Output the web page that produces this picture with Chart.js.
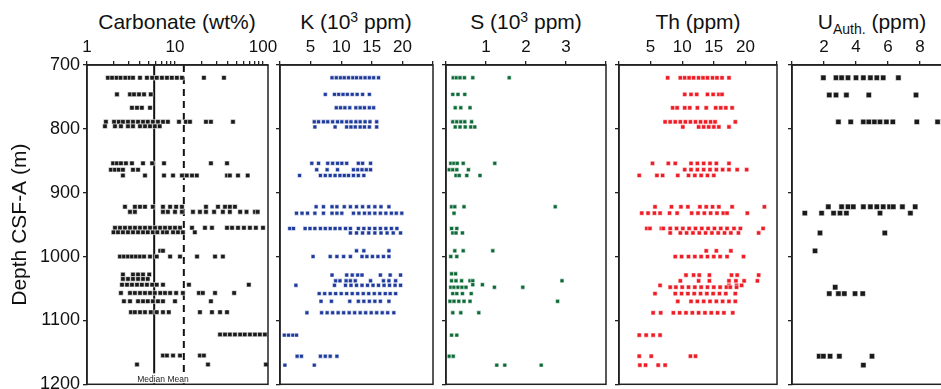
<!DOCTYPE html>
<html>
<head>
<meta charset="utf-8">
<script src="https://cdn.jsdelivr.net/npm/chart.js@4.4.1/dist/chart.umd.min.js"></script>
<style>
body { margin: 0; width: 941px; height: 389px; overflow: hidden; background: #fff; position: relative; font-family: "Liberation Sans", Arial, sans-serif; }
canvas { position: absolute; top: 0; }
.ttl { position: absolute; top: 10px; font-size: 21px; line-height: 1.15; white-space: nowrap; transform: translateX(-50%); color: #111; }
.ttl sup { font-size: 14px; vertical-align: 7px; line-height: 0; }
.ttl sub { font-size: 14px; vertical-align: -5px; line-height: 0; }
</style>
</head>
<body>
<div class="ttl" style="left:177px">Carbonate (wt%)</div>
<div class="ttl" style="left:356px">K (10<sup>3</sup> ppm)</div>
<div class="ttl" style="left:526px">S (10<sup>3</sup> ppm)</div>
<div class="ttl" style="left:698px">Th (ppm)</div>
<div class="ttl" style="left:872px">U<sub>Auth.</sub> (ppm)</div>
<script>
// depth rows (m) with the values measured at that depth
const carbRows = [
  [720, [1.73, 1.93, 2.17, 2.41, 2.73, 3.05, 3.33, 4.0, 4.8, 5.5, 6.2, 7.1, 8.1, 9.2, 10.5, 12.0, 21.3, 36]],
  [746, [2.19, 3.08, 3.42, 3.9, 4.45, 5.3]],
  [767, [3.24, 3.7, 4.2, 5.2]],
  [789, [1.64, 2.03, 2.3, 2.56, 2.92, 3.33, 3.8, 4.33, 4.9, 5.6, 6.4, 7.3, 8.3, 11.1, 13.3, 14.8, 22.5, 25.6, 45.6]],
  [796, [1.6, 2.08, 2.43, 2.92, 3.33, 4.0, 4.56, 5.2, 5.9, 6.7]],
  [854, [1.98, 2.19, 2.43, 2.77, 3.24, 4.33, 5.5, 7.5, 25.6, 39]],
  [864, [1.87, 2.08, 2.3, 2.56, 3.33, 3.8]],
  [873, [2.56, 4.56, 7.5, 9.5, 12.0, 13.6, 15.6, 17.7, 39, 42, 52, 67]],
  [922, [2.7, 3.5, 4.0, 4.56, 5.6, 7.3, 8.8, 10.3, 12.0, 22.5, 30.8, 37, 42, 48]],
  [930, [3.08, 3.5, 7.3, 8.3, 10, 12.0, 16, 19.2, 22.5, 27.8, 35, 42, 55, 65, 81, 87]],
  [955, [2.08, 2.37, 2.7, 3.08, 3.51, 4.0, 4.56, 5.2, 5.93, 6.76, 7.7, 8.77, 10, 11.4, 15.6, 21.9, 26.3, 39, 44.5, 52, 60.7, 71, 83, 100]],
  [962, [2.0, 2.25, 2.56, 2.92, 3.33, 3.8, 4.33, 4.9, 5.6, 6.3, 7.3, 8.1, 9.5, 10.8, 12.3, 16.8]],
  [991, [6.8, 7.3]],
  [1000, [2.37, 2.63, 2.92, 3.24, 3.6, 4.0, 4.45, 5.2, 6.2, 8.8, 11.4, 17.8, 28.5, 35]],
  [1028, [2.56, 3.33, 3.8, 4.33, 5.1]],
  [1035, [2.56, 2.92, 3.33, 3.8, 4.33, 4.9]],
  [1044, [2.5, 2.85, 3.24, 3.7, 4.2, 4.8, 5.5, 6.2, 7.3, 14.4, 69]],
  [1057, [2.43, 3.08, 3.5, 4.0, 4.56, 5.2, 5.9, 6.8, 7.7, 8.8, 10.3, 12.3, 18.7, 20.7, 28.5, 47]],
  [1070, [2.63, 3.08, 3.8, 4.33, 4.9, 5.6, 6.4, 7.3, 10, 25.6]],
  [1087, [3.16, 3.5, 4.0, 4.56, 5.3, 6.2, 7.3, 8.5, 19.2, 26.3, 32.5, 39]],
  [1122, [32.5, 37, 42, 48, 55, 62, 71, 81, 92, 105]],
  [1155, [7.3, 8.1, 9.5, 11.4, 19.2, 21.3]],
  [1169, [3.7, 23.7, 108]]
];
const carbMedian = 5.8;
const carbMean = 12.6;

const kRows = [
  [720, [8.5, 9.2, 9.9, 10.5, 11.2, 11.9, 12.5, 13.2, 13.9, 14.6, 15.3, 16.1]],
  [746, [7.4, 8.9, 9.6, 10.3, 11, 11.8, 12.6, 13.5, 14.6]],
  [767, [9.2, 9.9, 10.6, 11.4, 12.4, 13.1, 13.8, 14.6, 15.3]],
  [789, [5.6, 6.3, 7.1, 7.8, 8.6, 9.4, 10.1, 10.9, 11.6, 12.4, 13.1, 13.9, 14.7, 15.8]],
  [797, [5.7, 9.0, 10.9, 11.6, 12.3, 13.1, 13.8, 14.6, 15.8]],
  [854, [5.2, 6.3, 7.8, 8.6, 9.4, 10.1, 10.9, 12.8, 13.5, 14.8]],
  [864, [6.0, 7.7, 9.4, 12.0, 12.7, 13.4, 14.1, 14.8]],
  [873, [3.2, 6.6, 7.4, 8.2, 9.0, 9.8, 10.5, 11.2, 12.0, 12.8, 13.7]],
  [922, [5.9, 7.1, 8.5, 9.3, 10.5, 11.5, 12.5, 13.5, 14.5, 15.5, 16.5, 17.8]],
  [932, [2.7, 3.6, 4.5, 5.7, 7.1, 8.5, 9.3, 10.1, 12.0, 12.9, 13.8, 14.6, 15.5, 16.4, 17.3, 18.2, 19.0, 19.9]],
  [956, [1.6, 2.2, 4.1, 4.9, 5.7, 6.6, 7.4, 8.2, 9.0, 9.8, 10.7, 11.5, 12.8, 13.7, 14.6, 15.5, 16.4, 17.3, 18.2, 19.1]],
  [963, [11.5, 12.5, 13.5, 14.5, 15.5, 16.5, 17.5, 18.5, 19.7]],
  [991, [12.5, 13.7, 17.8]],
  [1000, [5.4, 8.2, 9.3, 10.4, 11.5, 13.4, 14.2, 15.1, 16.0, 16.9, 17.8]],
  [1029, [8.5, 10.9, 11.8, 12.7, 13.4, 16.4, 18.0, 19.7]],
  [1038, [9.1, 9.8, 10.8, 11.5, 12.3, 14.8, 16.9, 17.8, 18.9]],
  [1045, [2.6, 8.9, 10.7, 11.6, 12.5, 13.4, 14.3, 15.2, 16.1, 17.0, 17.9, 18.8, 19.7]],
  [1058, [6.4, 7.3, 8.2, 9.1, 10.0, 10.9, 11.8, 12.7, 13.6, 14.5, 15.4, 16.3, 17.2, 18.0, 18.9]],
  [1070, [6.7, 8.4, 11.4, 12.8, 13.7, 14.6, 15.5, 16.4, 17.8]],
  [1088, [4.4, 6.8, 7.7, 8.6, 9.5, 10.4, 11.3, 12.2, 13.1, 14.0, 14.9, 15.8, 16.7, 17.6, 18.6]],
  [1123, [0.7, 1.4, 2.1, 2.7]],
  [1156, [2.8, 3.5, 6.6, 7.4, 8.2, 9.3]],
  [1170, [0.8, 5.6]]
];

const sRows = [
  [720, [0.18, 0.26, 0.35, 0.46, 0.67, 1.58]],
  [746, [0.17, 0.3, 0.47]],
  [767, [0.23, 0.37, 0.6]],
  [789, [0.17, 0.27, 0.37, 0.47, 0.64]],
  [797, [0.23, 0.35, 0.48, 0.62, 0.72]],
  [854, [0.12, 0.2, 0.28, 0.43, 1.22]],
  [864, [0.08, 0.17, 0.27, 0.56]],
  [873, [0.25, 0.33, 0.52, 0.85]],
  [922, [0.14, 0.22, 0.45, 2.73]],
  [932, [0.2]],
  [956, [0.14, 0.27]],
  [963, [0.17, 0.25, 0.41]],
  [991, [0.22, 0.43, 1.17]],
  [1000, [0.12, 0.27]],
  [1027, [0.14, 0.24]],
  [1038, [0.14, 0.25, 0.39, 0.6, 0.67, 2.9]],
  [1044, [0.67, 0.91]],
  [1048, [0.12, 0.2, 0.3, 0.4, 0.5, 1.21, 1.92]],
  [1058, [0.17, 0.27, 0.41, 0.63]],
  [1070, [0.1, 0.2, 0.32, 0.45, 0.6, 2.79]],
  [1088, [0.17, 0.37, 0.82]],
  [1123, [0.14, 0.27]],
  [1156, [0.08, 0.18]],
  [1170, [1.27, 1.47, 2.38]]
];

const thRows = [
  [720, [7.7, 9.7, 10.4, 11.1, 11.8, 12.6, 13.3, 14.0, 14.8, 15.5, 16.3, 17.4]],
  [746, [10.4, 11.4, 12.3, 14.0, 14.9, 15.8, 16.3]],
  [767, [8.5, 9.2, 10.4, 11.2, 12.4, 13.8, 15.3, 16.1, 16.9, 17.9]],
  [789, [7.3, 8.1, 8.9, 9.7, 10.5, 11.3, 12.1, 12.9, 13.7, 14.5, 15.2, 18.4]],
  [797, [10.1, 12.6, 13.4, 14.2, 15.0, 15.8, 17.4]],
  [854, [5.3, 7.8, 8.9, 11.4, 12.4, 13.4, 14.4, 15.4, 17.4]],
  [864, [10.4, 11.4, 12.4, 13.4, 14.4, 15.4, 16.4, 17.4, 18.7, 20.2]],
  [873, [3.2, 6.0, 6.9, 9.3, 11.0, 12.0, 13.0, 14.0, 15.0]],
  [922, [5.7, 8.3, 9.8, 10.9, 12.8, 13.8, 14.8, 15.8, 17.9, 23.0]],
  [932, [3.6, 4.6, 5.6, 6.5, 8.0, 9.2, 11.5, 12.5, 13.5, 14.5, 15.5, 16.5, 17.1, 20.3]],
  [956, [4.4, 4.9, 6.7, 7.0, 8.1, 9.1, 10.1, 11.1, 12.1, 13.1, 14.1, 15.1, 16.1, 17.1, 18.2, 19.2, 22.8]],
  [963, [8.1, 9.7, 10.7, 11.7, 12.7, 13.7, 14.7, 15.7, 16.7, 17.7, 18.9, 22.1]],
  [991, [13.8, 15.4, 17.7]],
  [1000, [8.9, 9.9, 11.0, 12.0, 13.0, 14.0, 15.0, 16.0, 17.1, 19.7]],
  [1029, [10.6, 11.8, 12.7, 14.3, 17.8, 18.7, 22.1]],
  [1038, [9.7, 12.6, 14.3, 17.4, 18.5, 19.8, 21.9]],
  [1045, [6.5, 17.4, 18.6, 19.4]],
  [1048, [8.1, 9.0, 10.0, 11.0, 12.0, 13.0, 14.0, 15.0, 16.0, 17.0, 17.6, 18.6]],
  [1058, [5.7, 8.9, 9.9, 10.9, 11.9, 12.9, 13.9, 14.9, 15.9, 16.9, 18.4]],
  [1070, [9.3, 11.4, 12.4, 13.4, 14.4, 15.4, 16.4, 17.4, 18.4]],
  [1088, [5.4, 6.6, 8.6, 9.6, 10.6, 11.6, 12.6, 13.6, 14.6, 15.6, 16.6, 18.0]],
  [1123, [3.2, 4.3, 5.4, 6.5]],
  [1156, [3.2, 5.1, 11.3, 12.1]],
  [1170, [3.3, 4.2, 6.2, 7.3]]
];

const uRows = [
  [720, [1.96, 2.75, 3.1, 3.5, 4.0, 4.46, 4.9, 5.3, 5.7, 6.65]],
  [747, [2.33, 2.75, 3.4, 4.8, 7.75]],
  [789, [2.9, 3.67, 4.46, 4.8, 5.15, 5.5, 5.9, 6.3, 7.8, 9.1]],
  [922, [2.27, 3.1, 3.5, 3.83, 4.46, 4.9, 5.3, 5.7, 6.1, 6.33, 6.9, 7.7]],
  [932, [0.8, 1.85, 2.6, 3.0, 3.4, 5.5, 7.4]],
  [963, [1.75, 5.8]],
  [991, [1.44]],
  [1048, [2.7]],
  [1058, [2.33, 2.9, 3.27, 3.94, 4.42]],
  [1156, [1.7, 1.96, 2.38, 2.96, 5.0]],
  [1170, [4.46]]
];

// axis ticks
const depthTicks = [700, 800, 900, 1000, 1100, 1200];
const carbTicks = [1, 2, 3, 4, 5, 6, 7, 8, 9, 10, 20, 30, 40, 50, 60, 70, 80, 90, 100];
const carbLabels = [1, 10, 100];
const kTicks = [0, 5, 10, 15, 20, 25];
const kLabels = [5, 10, 15, 20];
const sTicks = [0, 1, 2, 3, 4];
const sLabels = [1, 2, 3];
const thTicks = [0, 5, 10, 15, 20, 25];
const thLabels = [5, 10, 15, 20];
const uTicks = [0, 2, 4, 6, 8, 10];
const uLabels = [2, 4, 6, 8];

Chart.defaults.font.family = '"Liberation Sans", Arial, sans-serif';
Chart.defaults.color = '#111';

const toPoints = rows => rows.flatMap(([d, vals]) => vals.map(v => ({ x: v, y: d })));

const boxPlugin = {
  id: 'box',
  afterDraw(chart) {
    const { ctx, chartArea: a } = chart;
    ctx.save();
    ctx.strokeStyle = '#222';
    ctx.lineWidth = 1.5;
    ctx.strokeRect(a.left, a.top, a.right - a.left, a.bottom - a.top);
    ctx.restore();
  }
};

const statLabel = {
  id: 'statLabel',
  afterDatasetsDraw(chart) {
    const { ctx, scales } = chart;
    const xm = scales.x.getPixelForValue(carbMedian);
    const y = chart.chartArea.bottom - 5;
    ctx.save();
    ctx.font = '8.5px "Liberation Sans", Arial, sans-serif';
    const txt = 'Median Mean';
    const w = ctx.measureText(txt).width;
    ctx.fillStyle = '#fff';
    ctx.fillRect(xm - 17, y - 6, w, 10);
    ctx.fillStyle = '#222';
    ctx.textBaseline = 'middle';
    ctx.fillText(txt, xm - 17, y);
    ctx.restore();
  }
};

const RIGHT_PAD = 16;

function makePanel(p) {
  const yw = p.first ? 87 : 8;
  const w = yw + (p.right - p.left) + RIGHT_PAD;
  const cv = document.createElement('canvas');
  cv.width = w;
  cv.height = 389;
  cv.style.left = (p.left - yw) + 'px';
  cv.style.width = w + 'px';
  cv.style.height = '389px';
  document.body.appendChild(cv);

  const datasets = [{
    data: toPoints(p.rows),
    pointStyle: 'rect',
    pointRadius: p.radius,
    backgroundColor: p.color,
    borderColor: 'rgba(255,255,255,0.8)',
    borderWidth: 0.7,
    order: 0
  }];
  if (p.first) {
    datasets.push({
      type: 'line', data: [{ x: carbMedian, y: 700 }, { x: carbMedian, y: 1200 }],
      borderColor: '#111', borderWidth: 2, pointRadius: 0, order: 1
    });
    datasets.push({
      type: 'line', data: [{ x: carbMean, y: 700 }, { x: carbMean, y: 1200 }],
      borderColor: '#111', borderWidth: 2, borderDash: [7, 5], pointRadius: 0, order: 1
    });
  }

  const gridOpts = { drawOnChartArea: false, drawTicks: true, tickLength: 4, color: '#222', lineWidth: 1.3 };

  new Chart(cv, {
    type: 'scatter',
    data: { datasets },
    options: {
      responsive: false,
      animation: false,
      devicePixelRatio: 1,
      layout: { padding: { left: 0, right: RIGHT_PAD, top: 0, bottom: 4 } },
      plugins: { legend: { display: false }, tooltip: { enabled: false } },
      scales: {
        x: {
          type: p.log ? 'logarithmic' : 'linear',
          position: 'top',
          min: p.min,
          max: p.max,
          afterFit: s => { s.height = 65; s.paddingLeft = 0; s.paddingRight = 0; },
          afterBuildTicks: s => { s.ticks = p.ticks.map(v => ({ value: v })); },
          ticks: {
            autoSkip: false, maxRotation: 0, padding: 3,
            font: { size: 17 }, color: '#111',
            callback: v => p.labels.includes(v) ? String(v) : ''
          },
          grid: gridOpts,
          border: { display: true, color: '#222', width: 1.5 }
        },
        y: {
          type: 'linear',
          reverse: true,
          min: 700,
          max: 1200,
          afterFit: s => { s.width = yw; s.paddingTop = 0; s.paddingBottom = 0; },
          afterBuildTicks: s => { s.ticks = depthTicks.map(v => ({ value: v })); },
          ticks: {
            display: !!p.first, padding: 3, font: { size: 18 }, color: '#111',
            callback: v => String(v)
          },
          title: {
            display: !!p.first, text: 'Depth CSF-A (m)', color: '#111',
            font: { size: 21 }, padding: { top: 8, bottom: 0 }
          },
          grid: gridOpts,
          border: { display: true, color: '#222', width: 1.5 }
        }
      }
    },
    plugins: p.first ? [boxPlugin, statLabel] : [boxPlugin]
  });
}

const panels = [
  { first: true, left: 87, right: 268, rows: carbRows, log: true, min: 1, max: 114,
    ticks: carbTicks, labels: carbLabels, color: '#1a1a1a', radius: 3.2 },
  { left: 280, right: 433, rows: kRows, min: 0, max: 25,
    ticks: kTicks, labels: kLabels, color: '#1d3a9c', radius: 2.8 },
  { left: 446, right: 606, rows: sRows, min: 0, max: 4,
    ticks: sTicks, labels: sLabels, color: '#0c6a36', radius: 2.8 },
  { left: 619, right: 777, rows: thRows, min: 0, max: 25,
    ticks: thTicks, labels: thLabels, color: '#ee1c25', radius: 3.0 },
  { left: 792, right: 952, rows: uRows, min: 0, max: 10,
    ticks: uTicks, labels: uLabels, color: '#1a1a1a', radius: 3.8 }
];

panels.forEach(makePanel);
</script>
</body>
</html>
